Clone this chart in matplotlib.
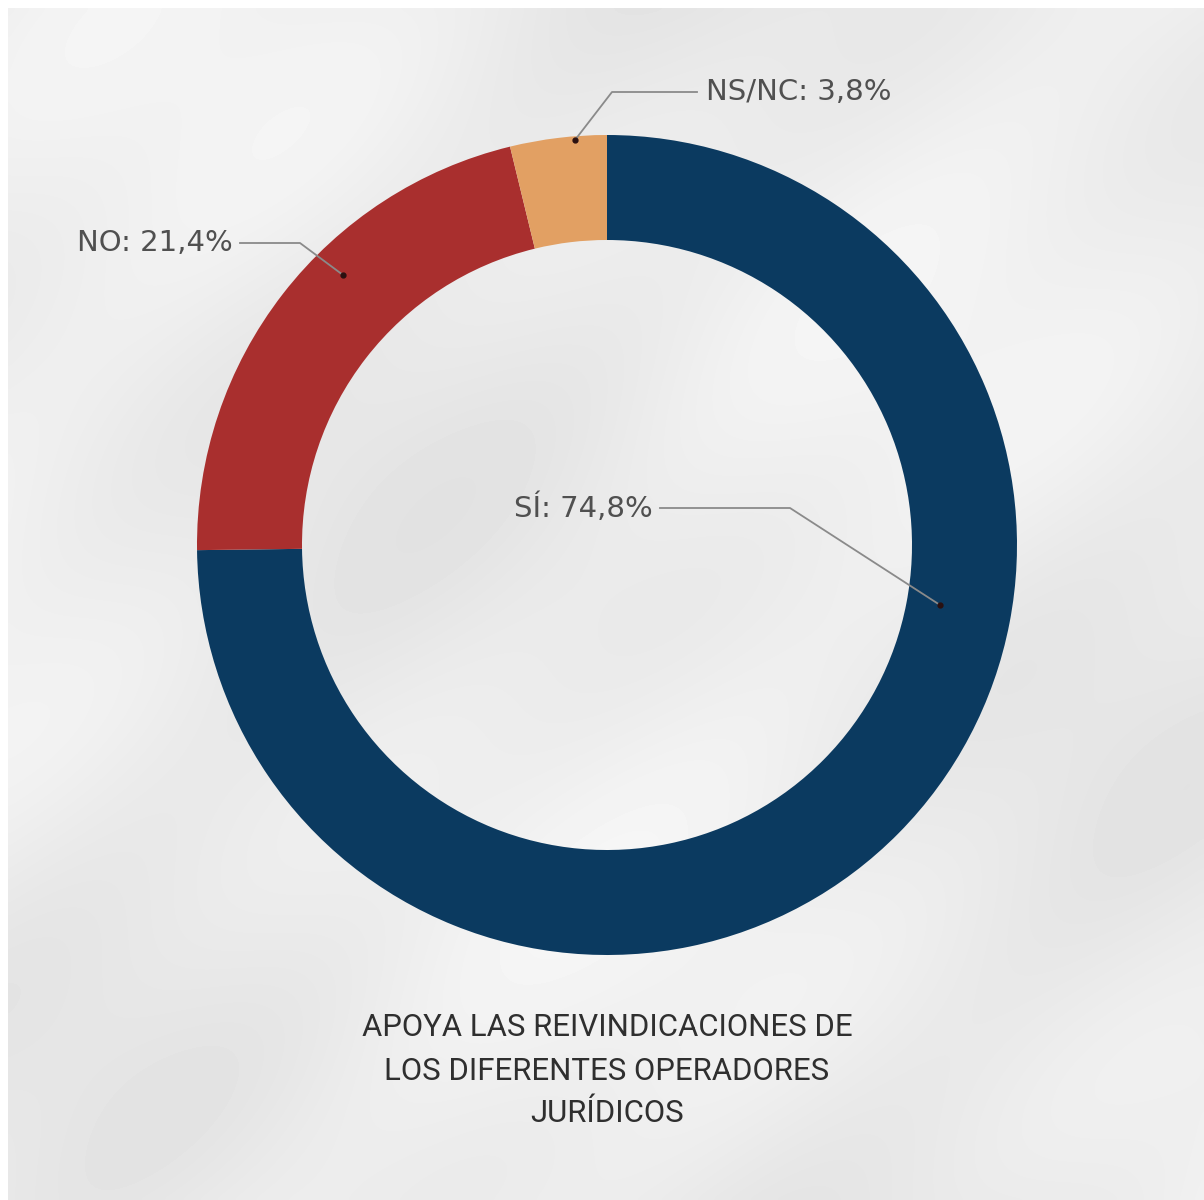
import numpy as np
import matplotlib.pyplot as plt

# data
labels = ['SÍ', 'NO', 'NS/NC']
values = [74.8, 21.4, 3.8]
colors = ['#0b3a60', '#a92f2e', '#e2a063']
title_lines = ['APOYA LAS REIVINDICACIONES DE', 'LOS DIFERENTES OPERADORES', 'JURÍDICOS']

W, H = 1204, 1200
fig = plt.figure(figsize=(W / 100, H / 100), dpi=100)
fig.patch.set_facecolor('white')
ax = fig.add_axes([0, 0, 1, 1])

# soft grey backdrop (decoration only)
yy, xx = np.mgrid[0:H:4, 0:W:4]
tex = (0.925
       + 0.018 * np.sin(xx / 140.0 + yy / 260.0)
       + 0.015 * np.cos(yy / 110.0 - xx / 310.0)
       + 0.008 * np.sin((xx + yy) / 55.0))
ax.imshow(tex, cmap='gray', vmin=0, vmax=1, extent=[8, W, 0, H - 8],
          origin='upper', zorder=0, interpolation='bicubic')

cx, cy = 607, H - 545
r_out, ring = 410, 105
wedges, _ = ax.pie(values, colors=colors, startangle=90, counterclock=False,
                   center=(cx, cy), radius=r_out, frame=True,
                   wedgeprops=dict(width=ring, edgecolor='none'))
ax.set_xlim(0, W)
ax.set_ylim(0, H)
ax.set_aspect('equal')
ax.axis('off')

txt_col = '#505050'
line_col = '#8a8a8a'

# leader lines: dot, elbow, end
leaders = {
    'SÍ': ((940, 605), (790, 508), (660, 508)),
    'NO': ((343, 275), (300, 243), (240, 243)),
    'NS/NC': ((575, 140), (612, 92), (697, 92)),
}
for lab, val in zip(labels, values):
    dot, elbow, end = leaders[lab]
    xs = [dot[0], elbow[0], end[0]]
    ys = [H - dot[1], H - elbow[1], H - end[1]]
    ax.plot(xs, ys, color=line_col, lw=1.3, zorder=3)
    ax.plot(dot[0], H - dot[1], 'o', color='#2a1010', ms=3.5, zorder=4)
    s = f'{lab}: {val:.1f}%'.replace('.', ',')
    right = end[0] > elbow[0]
    ax.text(end[0] + (9 if right else -7), H - end[1], s,
            ha='left' if right else 'right', va='center',
            fontsize=21, color=txt_col, family='DejaVu Sans', zorder=5)

for i, line in enumerate(title_lines):
    ax.text(607, H - (1028 + i * 43), line, ha='center', va='center',
            fontsize=22.4, color='#2f2f2f',
            family=['Roboto', 'DejaVu Sans'], zorder=5)

fig.savefig('out.png', dpi=100, facecolor='white')
